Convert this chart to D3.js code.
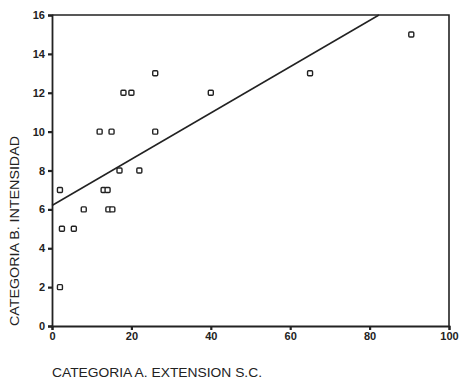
<!DOCTYPE html>
<html>
<head>
<meta charset="utf-8">
<script src="https://cdn.jsdelivr.net/npm/d3@7"></script>
<style>
  body { margin: 0; background: #fff; }
  text { font-family: Arial, "Liberation Sans", sans-serif; fill: #222; }
</style>
</head>
<body>
<svg id="chart"></svg>
<script>
// data
var xValues = [2, 2.5, 5.5, 8, 13, 14, 14.2, 15.2, 17, 22, 12, 15, 26, 2, 18, 20, 26, 40, 65, 90.5];
var yValues = [7, 5, 5, 6, 7, 7, 6, 6, 8, 8, 10, 10, 10, 2, 12, 12, 13, 12, 13, 15];
var xTicks = [0, 20, 40, 60, 80, 100];
var yTicks = [0, 2, 4, 6, 8, 10, 12, 14, 16];
var fitLine = { intercept: 6.2, slope: 0.119 };
var xTitle = "CATEGORIA A. EXTENSION S.C.";
var yTitle = "CATEGORIA B. INTENSIDAD";

var width = 462, height = 380;
var margin = { top: 15, right: 13, bottom: 54, left: 52 };

var svg = d3.select("#chart").attr("width", width).attr("height", height);

var x = d3.scaleLinear().domain([0, 100]).range([margin.left, width - margin.right]);
var y = d3.scaleLinear().domain([0, 16]).range([height - margin.bottom, margin.top]);

// frame (top + right)
svg.append("path")
	.attr("d", "M" + x(0) + "," + y(16) + "H" + x(100) + "V" + y(0))
	.attr("fill", "none")
	.attr("stroke", "#222")
	.attr("stroke-width", 1.6);

// axes
var xAxis = svg.append("g")
	.attr("transform", "translate(0," + y(0) + ")")
	.call(d3.axisBottom(x).tickValues(xTicks).tickSize(4).tickPadding(2));
var yAxis = svg.append("g")
	.attr("transform", "translate(" + x(0) + ",0)")
	.call(d3.axisLeft(y).tickValues(yTicks).tickSize(4).tickPadding(3));

[xAxis, yAxis].forEach(function (a) {
	a.select(".domain").attr("stroke", "#222").attr("stroke-width", 1.8);
	a.selectAll(".tick line").attr("stroke", "#222").attr("stroke-width", 2.2);
	a.selectAll(".tick text")
		.attr("font-size", "11px")
		.attr("font-weight", "bold")
		.attr("fill", "#222");
});

// regression line, stopped at the top of the plot
var xEnd = Math.min(100, (16 - fitLine.intercept) / fitLine.slope);
svg.append("line")
	.attr("x1", x(0))
	.attr("y1", y(fitLine.intercept))
	.attr("x2", x(xEnd))
	.attr("y2", y(fitLine.intercept + fitLine.slope * xEnd))
	.attr("stroke", "#222")
	.attr("stroke-width", 1.5);

// points
var pts = xValues.map(function (v, i) { return { x: v, y: yValues[i] }; });
var s = 5;
svg.selectAll("rect.pt")
	.data(pts)
	.enter()
	.append("rect")
	.attr("class", "pt")
	.attr("x", d => x(d.x) - s / 2)
	.attr("y", d => y(d.y) - s / 2)
	.attr("width", s)
	.attr("height", s)
	.attr("rx", 1)
	.attr("fill", "#fff")
	.attr("stroke", "#222")
	.attr("stroke-width", 1.4);

// titles
svg.append("text")
	.attr("x", 52)
	.attr("y", 377)
	.attr("font-size", "13px")
	.attr("textLength", 210)
	.attr("lengthAdjust", "spacingAndGlyphs")
	.text(xTitle);

svg.append("text")
	.attr("transform", "translate(19," + y(0) + ") rotate(-90)")
	.attr("font-size", "13px")
	.attr("textLength", 190)
	.attr("lengthAdjust", "spacingAndGlyphs")
	.text(yTitle);
</script>
</body>
</html>
